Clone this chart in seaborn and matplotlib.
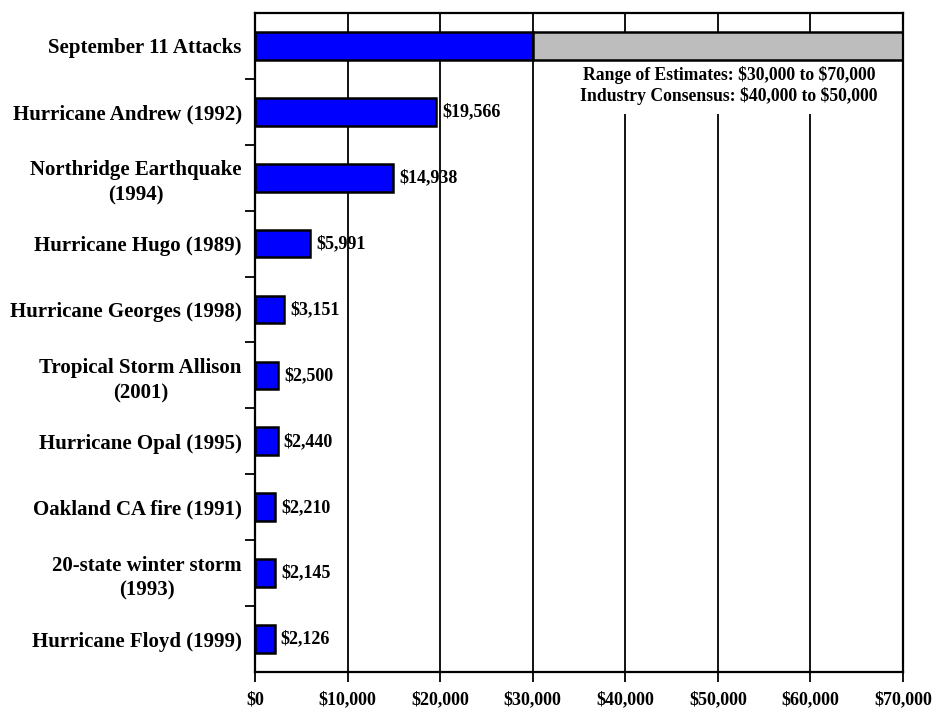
import numpy as np
import pandas as pd
import matplotlib
matplotlib.use("Agg")
import matplotlib.pyplot as plt
import seaborn as sns
from matplotlib.ticker import FuncFormatter, FixedLocator

# insured losses, millions of dollars
events = [
    "September 11 Attacks",
    "Hurricane Andrew (1992)",
    "Northridge Earthquake\n(1994)",
    "Hurricane Hugo (1989)",
    "Hurricane Georges (1998)",
    "Tropical Storm Allison\n(2001)",
    "Hurricane Opal (1995)",
    "Oakland CA fire (1991)",
    "20-state winter storm\n(1993)",
    "Hurricane Floyd (1999)",
]
losses = [30000, 19566, 14938, 5991, 3151, 2500, 2440, 2210, 2145, 2126]
value_labels = ["", "$19,566", "$14,938", "$5,991", "$3,151", "$2,500",
                "$2,440", "$2,210", "$2,145", "$2,126"]
range_low = 30000
range_high = 70000
note_text = ("Range of Estimates: \\$30,000 to \\$70,000\n"
             "Industry Consensus: \\$40,000 to \\$50,000")
x_ticks = [0, 10000, 20000, 30000, 40000, 50000, 60000, 70000]

df = pd.DataFrame({"event": events, "loss": losses})

sns.set_style("white")
plt.rcParams["font.family"] = ["Liberation Serif", "DejaVu Serif"]
plt.rcParams["font.weight"] = "bold"
plt.rcParams["text.color"] = "black"
plt.rcParams["xtick.labelcolor"] = "black"
plt.rcParams["ytick.labelcolor"] = "black"

fig = plt.figure(figsize=(9.39, 7.09), dpi=100)
ax = fig.add_axes([0.2716, 0.0522, 0.6901, 0.9295])

# gridlines behind bars
ax.set_axisbelow(True)
ax.xaxis.grid(True, color="black", linewidth=1.3)

sns.barplot(data=df, x="loss", y="event", orient="h", ax=ax,
            color="#0000ff", saturation=1, width=0.42,
            edgecolor="black", linewidth=1.8)

# range of estimates for Sept 11
ax.barh(events[0], range_high - range_low, left=range_low, height=0.42,
        color="#bdbdbd", edgecolor="black", linewidth=1.8)

for i, (v, lab) in enumerate(zip(losses, value_labels)):
    if lab:
        ax.text(v + 650, i, lab, va="center", ha="left", fontsize=13,
                fontweight="bold", color="black")

# note sits on a white box that hides the gridlines (but not the bar)
ax.text(51200, 0.6, note_text, ha="center", va="center", fontsize=12.7,
        fontweight="bold", color="black", linespacing=1.25, zorder=0.8,
        bbox=dict(facecolor="white", edgecolor="none", pad=6))

ax.set_xlim(0, 70000)
ax.set_ylim(len(events) - 0.5, -0.5)
ax.set_xticks(x_ticks)
ax.xaxis.set_major_formatter(FuncFormatter(lambda v, p: f"${v:,.0f}"))
ax.set_xlabel("")
ax.set_ylabel("")

# ticks at category boundaries on the left
ax.yaxis.set_minor_locator(FixedLocator(np.arange(0.5, len(events) - 0.5, 1)))
ax.tick_params(axis="y", which="major", length=0, pad=9.5, labelsize=15)
ax.tick_params(axis="y", which="minor", length=7, width=1.3, direction="out",
               left=True, color="black")
ax.tick_params(axis="x", which="major", length=7, width=1.3, direction="out",
               bottom=True, pad=7, labelsize=13, color="black")
for t in ax.get_yticklabels():
    t.set_multialignment("center")
    t.set_linespacing(1.35)
    t.set_fontweight("bold")
for t in ax.get_xticklabels():
    t.set_fontweight("bold")

for side in ["left", "top", "bottom", "right"]:
    ax.spines[side].set_visible(True)
    ax.spines[side].set_color("black")
    ax.spines[side].set_linewidth(1.6)

fig.savefig("out.png", dpi=100)
